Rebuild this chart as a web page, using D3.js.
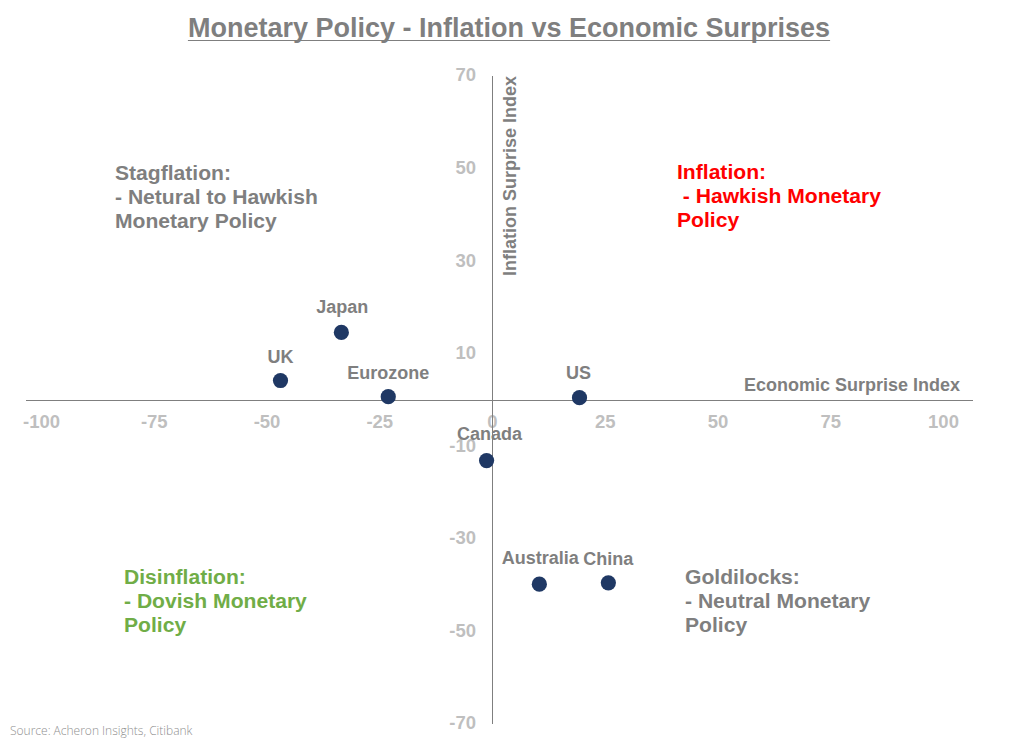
<!DOCTYPE html>
<html>
<head>
<meta charset="utf-8">
<script src="https://cdn.jsdelivr.net/npm/d3@7/dist/d3.min.js"></script>
<style>
html,body{margin:0;padding:0;background:#fff;}
svg{display:block;}
text{font-family:"Liberation Sans",Arial,sans-serif;font-weight:700;}
</style>
</head>
<body>
<script>
// ---- data ----
const countries = ["Japan","UK","Eurozone","US","Canada","Australia","China"];
const econSurprise = [-33.4,-46.9,-23.0,19.4,-1.2,10.5,25.8];
const inflSurprise = [14.5,4.1,0.6,0.4,-13.2,-39.9,-39.6];
const xTicks = [-100,-75,-50,-25,0,25,50,75,100];
const yTicks = [70,50,30,10,-10,-30,-50,-70];
const titleText = "Monetary Policy - Inflation vs Economic Surprises";
const xAxisTitle = "Economic Surprise Index";
const yAxisTitle = "Inflation Surprise Index";
const sourceText = "Source: Acheron Insights, Citibank";
const quadrantNames = ["stag","infl","disi","gold"];
const quadrantLines = [
  ["Stagflation:","- Netural to Hawkish","Monetary Policy"],
  ["Inflation:"," - Hawkish Monetary","Policy"],
  ["Disinflation:","- Dovish Monetary","Policy"],
  ["Goldilocks:","- Neutral Monetary","Policy"]
];

// ---- layout ----
const W = 1018, H = 738;
const GREY = "#7f7f7f", TICK = "#bfbfbf", NAVY = "#1f3864";
const x = d3.scaleLinear().domain([-100,100]).range([41,943]);
const y = d3.scaleLinear().domain([-70,70]).range([723.5,75.5]);
const xLineEnds = [26,973], yAxisPx = 400.5;
const labelOffset = {
  Japan:[1,-19], UK:[0,-18], Eurozone:[0,-18], US:[-1,-19],
  Canada:[3,-21], Australia:[1,-20], China:[0,-18]
};
const quadrantPos = {
  stag:{x:115,y:180,fill:GREY},
  infl:{x:677,y:179,fill:"#ff0000"},
  disi:{x:124,y:584,fill:"#70ad47"},
  gold:{x:685,y:584,fill:GREY}
};

const svg = d3.select("body").append("svg").attr("width",W).attr("height",H);

// title with underline
const t = svg.append("text").attr("x",509).attr("y",36.5).attr("text-anchor","middle")
  .attr("font-size",27).attr("fill",GREY).text(titleText);
const tw = t.node().getComputedTextLength();
svg.append("line").attr("x1",509-tw/2).attr("x2",509+tw/2).attr("y1",40.5).attr("y2",40.5)
  .attr("stroke",GREY).attr("stroke-width",1.2);

// x axis
const gx = svg.append("g").attr("transform",`translate(0,${yAxisPx})`)
  .call(d3.axisBottom(x).tickValues(xTicks).tickSize(0).tickPadding(14).tickFormat(String));
gx.select(".domain").remove();
gx.append("line").attr("x1",xLineEnds[0]).attr("x2",xLineEnds[1]).attr("stroke",GREY).attr("stroke-width",1);
gx.selectAll("text").attr("font-size",18.5).attr("fill",TICK).attr("font-family","Liberation Sans").attr("font-weight",700);

// y axis
const gy = svg.append("g").attr("transform",`translate(${x(0)},0)`)
  .call(d3.axisLeft(y).tickValues(yTicks).tickSize(0).tickPadding(16).tickFormat(String));
gy.select(".domain").attr("stroke",GREY).attr("stroke-width",1);
gy.selectAll("text").attr("font-size",18.5).attr("fill",TICK).attr("font-family","Liberation Sans").attr("font-weight",700).attr("dy","0.29em");

// axis titles
svg.append("text").attr("x",960).attr("y",391).attr("text-anchor","end")
  .attr("font-size",18).attr("fill",GREY).text(xAxisTitle);
svg.append("text").attr("transform","translate(516,176) rotate(-90)").attr("text-anchor","middle")
  .attr("font-size",18).attr("fill",GREY).text(yAxisTitle);

// points
svg.append("g").selectAll("circle").data(countries).join("circle")
  .attr("cx",(d,i)=>x(econSurprise[i])).attr("cy",(d,i)=>y(inflSurprise[i]))
  .attr("r",7.6).attr("fill",NAVY);

// point labels
svg.append("g").selectAll("text").data(countries).join("text")
  .attr("x",(d,i)=>x(econSurprise[i])+labelOffset[d][0])
  .attr("y",(d,i)=>y(inflSurprise[i])+labelOffset[d][1])
  .attr("text-anchor","middle").attr("font-size",18).attr("fill",GREY).text(d=>d);

// quadrant notes
quadrantNames.forEach((q,i)=>{
  const p = quadrantPos[q];
  const tx = svg.append("text").attr("x",p.x).attr("y",p.y).attr("font-size",21.1).attr("fill",p.fill)
    .attr("xml:space","preserve").style("white-space","pre");
  quadrantLines[i].forEach((s,j)=>tx.append("tspan").attr("x",p.x).attr("dy",j?24:0).text(s));
});

// source
svg.append("text").attr("x",10).attr("y",735).attr("font-size",12).attr("fill","#8f8f8f")
  .style("font-family","'Open Sans'").style("font-weight",300).text(sourceText);
</script>
</body>
</html>
